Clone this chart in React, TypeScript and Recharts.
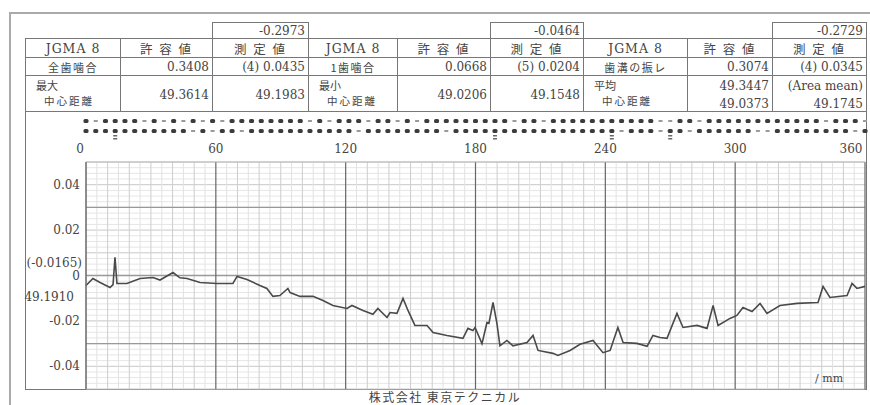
import React from 'react';
import { LineChart, ComposedChart, Line, XAxis, YAxis, ReferenceLine } from 'recharts';

// profile of centre distance deviation (deg -> mm)
const degrees = [
  0, 3.2, 6.5, 11.1, 12.5, 13.4, 14.3, 18.9, 25.0, 31.0, 34.2, 40.2, 43.4, 46.7, 52.7, 60.5,
  67.9, 69.8, 74.4, 80.4, 83.6, 86.4, 89.6, 93.3, 94.3, 98.9, 104.9, 109.5, 114.1, 120.6, 122.9,
  128.0, 132.6, 134.9, 139.1, 140.5, 143.7, 146.5, 148.8, 152.0, 157.6, 160.4, 166.8, 174.2,
  176.5, 178.8, 179.8, 183.0, 185.3, 186.2, 188.1, 189.9, 191.3, 194.5, 197.3, 203.8, 206.6,
  208.9, 215.8, 218.1, 223.7, 228.3, 234.3, 238.9, 242.2, 245.8, 248.2, 254.6, 259.3, 262.0,
  265.3, 268.5, 273.1, 275.9, 282.4, 287.0, 289.8, 292.1, 297.6, 300.8, 303.6, 307.8, 311.5,
  314.7, 320.7, 328.6, 338.3, 340.6, 343.8, 351.7, 354.0, 356.3, 360,
];
const deviation = [
  -0.0044, -0.0013, -0.0031, -0.0053, -0.004, 0.008, -0.0035, -0.0035, -0.0013, -0.0009, -0.002,
  0.0013, -0.001, -0.0013, -0.0031, -0.0035, -0.0035, -0.0004, -0.0018, -0.0044, -0.0057, -0.0092,
  -0.0088, -0.0057, -0.0075, -0.0092, -0.0092, -0.011, -0.0132, -0.0145, -0.0132, -0.0154, -0.0171,
  -0.0145, -0.0185, -0.0163, -0.0167, -0.0101, -0.0154, -0.022, -0.022, -0.0251, -0.0264, -0.0277,
  -0.0233, -0.0242, -0.0229, -0.03, -0.0207, -0.0211, -0.0119, -0.0211, -0.031, -0.0286, -0.031,
  -0.0295, -0.0264, -0.033, -0.0343, -0.0352, -0.033, -0.0303, -0.0286, -0.034, -0.033, -0.0229,
  -0.0295, -0.0299, -0.0312, -0.0264, -0.0273, -0.0277, -0.0167, -0.0229, -0.022, -0.0233, -0.0132,
  -0.022, -0.0189, -0.0176, -0.0141, -0.0159, -0.0123, -0.0167, -0.0132, -0.0123, -0.0119, -0.0048,
  -0.0097, -0.0088, -0.0035, -0.0057, -0.0048,
];
const xTicks = [0, 60, 120, 180, 240, 300, 360];
const yTicks = [0.04, 0.02, 0, -0.02, -0.04];
const zeroNotes = ['(-0.0165)', '49.1910'];

// per-tooth marks, 81 teeth: o = dot, - = faint, = = dot with marker below
const marksUpper = 'o-oooo-o-o' + '-o-o-ooooo' + 'ooo-o-ooo-' + 'oo-o-ooooo' + 'oooo-oo-oo' +
  'ooooooooo-' + '-oo-oooooo' + 'oooooo-ooo' + '-';
const marksLower = 'ooo=oooooo' + 'o-o-oo-ooo' + 'oooooooo-o' + 'ooooooo-oo' + 'oo=ooooooo' +
  'oooo=-ooo-' + '=o-oooooo-' + '-oooooooo-' + 'o';

// table
const topTotals = ['-0.2973', '-0.0464', '-0.2729'];
const headerRow = ['JGMA 8', '許 容 値', '測 定 値', 'JGMA 8', '許 容 値', '測 定 値', 'JGMA 8', '許 容 値', '測 定 値'];
const meshRow = ['全歯噛合', '0.3408', '(4) 0.0435', '1歯噛合', '0.0668', '(5) 0.0204', '歯溝の振レ', '0.3074', '(4) 0.0345'];
const distRow = [
  ['最大', '中心距離'], ['49.3614'], ['49.1983'],
  ['最小', '中心距離'], ['49.0206'], ['49.1548'],
  ['平均', '中心距離'], ['49.3447', '49.0373'], ['(Area mean)', '49.1745'],
];

const profile = degrees.map((d, i) => ({ deg: d, dev: deviation[i] }));
const teeth = marksUpper.split('').map((m, i) => ({
  tooth: i + 1, upper: 1, lower: 0, upperMark: m, lowerMark: marksLower[i],
}));

const colEdges = [25, 120, 212, 308, 397, 490, 583, 687, 772, 866];
const rowEdges = [38, 57, 75, 111];

const SERIF = "'DejaVu Serif', 'Noto Sans CJK JP', serif";
const JP = "'Noto Sans CJK JP', sans-serif";
const INK = '#444';

const fineY: number[] = [];
for (let v = -50; v <= 50; v += 2.5) fineY.push(v / 1000);
const fineX: number[] = [];
for (let d = 0; d <= 360; d += 5) fineX.push(d);
const heavyY = [0.03, 0, -0.03];

const XTick = (p: any) => {
  const v = p.payload.value;
  const shift = v === 0 ? -6 : v === 360 ? -14 : 0;
  return (
    <text x={p.x + shift} y={p.y} dy={-1} textAnchor="middle" fontSize={12} fill={INK} fontFamily={SERIF}>
      {v}
    </text>
  );
};

const YTick = (p: any) => {
  const v = p.payload.value;
  return (
    <g fontFamily={SERIF} fontSize={12} fill={INK}>
      <text x={p.x} y={p.y} dy={4} textAnchor="end">{v === 0 ? '0' : v.toFixed(2)}</text>
      {v === 0 && (
        <>
          <text x={p.x + 2} y={p.y} dy={-9} textAnchor="end">{zeroNotes[0]}</text>
          <text x={p.x - 6} y={p.y} dy={25} textAnchor="end">{zeroNotes[1]}</text>
        </>
      )}
    </g>
  );
};

const Mark = ({ cx, cy, kind }: any) => {
  if (kind === '-') return <rect x={cx - 2} y={cy - 1} width={4} height={2} fill="#9a9a9a" />;
  return (
    <g>
      <rect x={cx - 2.5} y={cy - 2} width={5} height={4} rx={1.5} fill="#3c3c3c" />
      {kind === '=' && (
        <>
          <rect x={cx - 2} y={cy + 4} width={4} height={1.5} fill="#666" />
          <rect x={cx - 2} y={cy + 7} width={4} height={1.5} fill="#666" />
        </>
      )}
    </g>
  );
};

const cellBox = (c: number, r: number): React.CSSProperties => ({
  position: 'absolute',
  left: colEdges[c],
  top: rowEdges[r],
  width: colEdges[c + 1] - colEdges[c] + 1,
  height: rowEdges[r + 1] - rowEdges[r] + 1,
  border: '1px solid #777',
  boxSizing: 'border-box',
  color: INK,
  display: 'flex',
  overflow: 'hidden',
});

const App: React.FC = () => {
  return (
    <div style={{ position: 'absolute', left: 0, top: 0, width: 870, height: 405, background: '#fff', overflow: 'hidden' }}>
      {/* outer frame */}
      <div style={{ position: 'absolute', left: 9, top: 12, width: 870, height: 400, borderLeft: '2px solid #aaa', borderTop: '2px solid #aaa' }} />
      {/* inner frame */}
      <div style={{ position: 'absolute', left: 25, top: 38, width: 842, height: 352, border: '1px solid #777', boxSizing: 'border-box' }} />

      {topTotals.map((t, i) => (
        <div key={t} style={{ ...cellBox(2 + i * 3, 0), top: 22, height: 17, justifyContent: 'flex-end', alignItems: 'center', paddingRight: 3, fontFamily: SERIF, fontSize: 12 }}>
          {t}
        </div>
      ))}

      {headerRow.map((t, c) => (
        <div key={'h' + c} style={{ ...cellBox(c, 0), justifyContent: 'center', alignItems: 'center', fontFamily: c % 3 === 0 ? SERIF : JP, fontSize: 12.5, letterSpacing: c % 3 === 0 ? 1 : 2 }}>
          {t}
        </div>
      ))}

      {meshRow.map((t, c) => (
        <div key={'m' + c} style={{ ...cellBox(c, 1), justifyContent: c % 3 === 0 ? 'center' : 'flex-end', alignItems: 'center', paddingRight: c % 3 === 0 ? 0 : 3, fontFamily: c % 3 === 0 ? JP : SERIF, fontSize: c % 3 === 0 ? 11 : 12, letterSpacing: c % 3 === 0 ? 1.5 : 0 }}>
          {t}
        </div>
      ))}

      {distRow.map((lines, c) => (
        c % 3 === 0 ? (
          <div key={'d' + c} style={{ ...cellBox(c, 2), flexDirection: 'column', fontFamily: JP, paddingTop: 2 }}>
            <span style={{ fontSize: 11, paddingLeft: 10, lineHeight: '15px' }}>{lines[0]}</span>
            <span style={{ fontSize: 10.5, paddingLeft: 18, letterSpacing: 2, lineHeight: '16px' }}>{lines[1]}</span>
          </div>
        ) : (
          <div key={'d' + c} style={{ ...cellBox(c, 2), flexDirection: 'column', alignItems: 'flex-end', justifyContent: 'center', paddingRight: 3, paddingTop: 3, fontFamily: SERIF, fontSize: 12, lineHeight: '18px' }}>
            {lines.map((l) => <span key={l}>{l}</span>)}
          </div>
        )
      ))}

      {/* tooth marks */}
      <div style={{ position: 'absolute', left: 0, top: 111 }}>
        <ComposedChart width={870} height={30} data={teeth} margin={{ top: 5, right: 5, bottom: 5, left: 86 }}>
          <XAxis dataKey="tooth" type="category" hide />
          <YAxis domain={[-0.5, 1.5]} hide />
          <Line dataKey="upper" stroke="none" isAnimationActive={false}
            dot={(p: any) => <Mark key={'u' + p.index} cx={p.cx} cy={p.cy} kind={p.payload.upperMark} />} />
          <Line dataKey="lower" stroke="none" isAnimationActive={false}
            dot={(p: any) => <Mark key={'l' + p.index} cx={p.cx} cy={p.cy} kind={p.payload.lowerMark} />} />
        </ComposedChart>
      </div>

      {/* profile chart */}
      <div style={{ position: 'absolute', left: 0, top: 0 }}>
        <LineChart width={870} height={405} data={profile} margin={{ top: 142, right: 5, bottom: 16, left: 26 }}>
          <XAxis dataKey="deg" type="number" orientation="top" domain={[0, 360]} ticks={xTicks}
            height={20} tickLine={false} axisLine={{ stroke: '#bbb' }} tick={(p: any) => <XTick {...p} />} interval={0} />
          <YAxis type="number" domain={[-0.05, 0.05]} ticks={yTicks} width={60} tickLine={false}
            tickMargin={0} axisLine={{ stroke: '#777' }} tick={(p: any) => <YTick {...p} />} interval={0} />
          {fineY.map((v) => {
            const k = Math.round(v * 10000);
            return (
              <ReferenceLine key={'hy' + k} y={v} stroke={k % 100 === 0 ? '#c8c8c8' : '#e6e6e6'} />
            );
          })}
          {fineX.filter((d) => d % 60 !== 0).map((d) => (
            <ReferenceLine key={'vx' + d} x={d} stroke={d % 10 === 0 ? '#cdcdcd' : '#e2e2e2'} />
          ))}
          {heavyY.map((v) => (
            <ReferenceLine key={'hh' + v} y={v} stroke="#999" strokeWidth={1.3} />
          ))}
          {xTicks.map((d) => (
            <ReferenceLine key={'vm' + d} x={d} stroke="#666" strokeWidth={1.2} />
          ))}
          <Line type="linear" dataKey="dev" stroke="#4a4a4a" strokeWidth={1.6} dot={false} isAnimationActive={false} />
        </LineChart>
      </div>

      <div style={{ position: 'absolute', left: 815, top: 372, fontFamily: SERIF, fontSize: 11, color: INK }}>/ mm</div>
      <div style={{ position: 'absolute', left: 360, top: 390, width: 170, textAlign: 'center', fontFamily: JP, fontSize: 12, lineHeight: '14px', letterSpacing: 1.5, color: INK }}>
        株式会社 東京テクニカル
      </div>
    </div>
  );
};

export default App;
